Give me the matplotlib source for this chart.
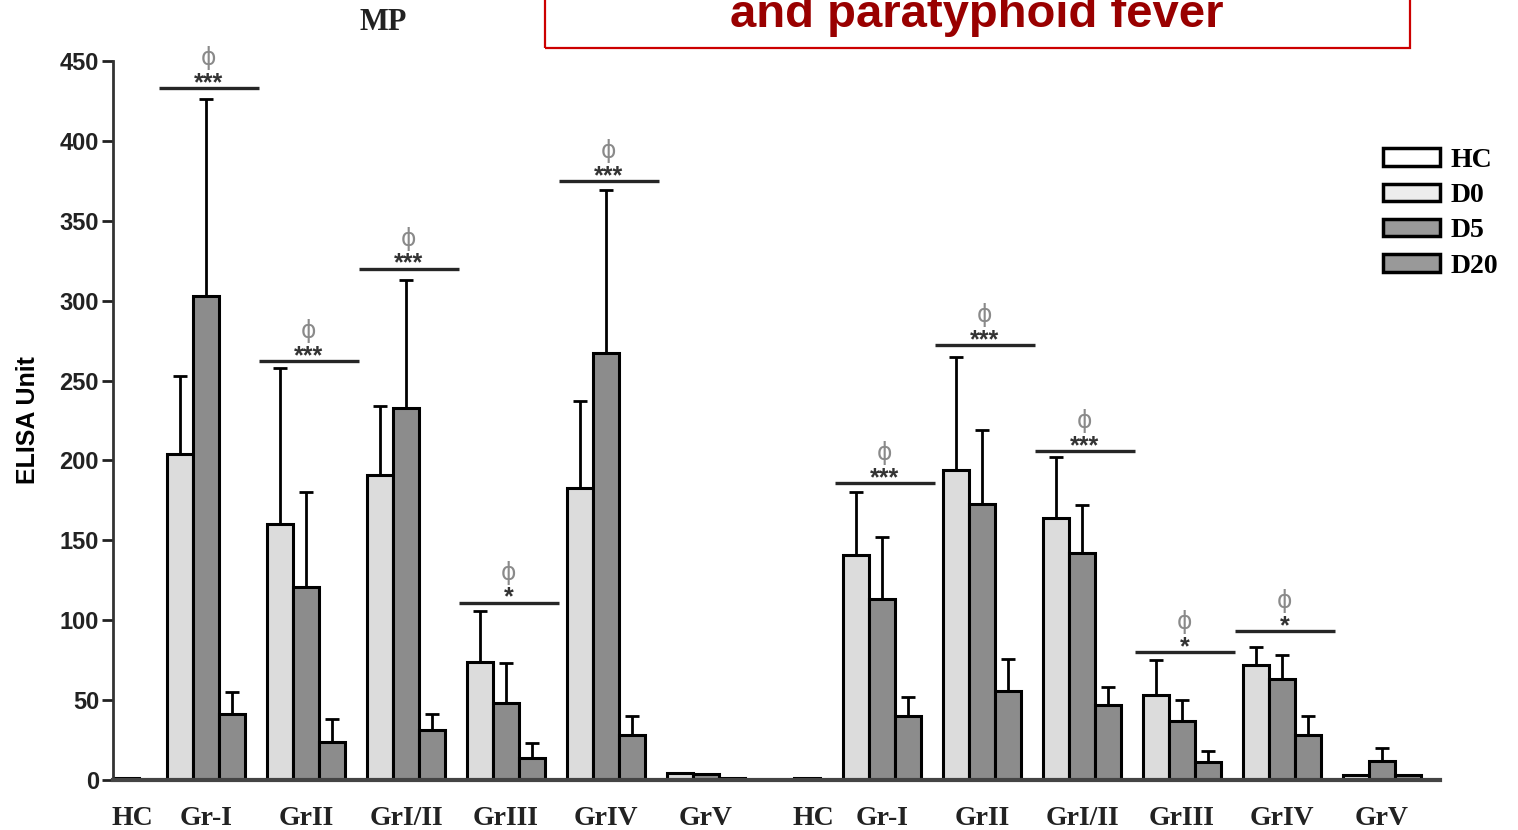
import numpy as np
import matplotlib
matplotlib.use('Agg')
import matplotlib.pyplot as plt
from matplotlib.patches import Rectangle

# Values (ELISA units), upper error = SD
groups = ['Gr-I', 'GrII', 'GrI/II', 'GrIII', 'GrIV', 'GrV']
hc_vals = [1.5, 1.5]

d0_1 = [204, 160, 191, 74, 183, 4.5]
d0_1_sd = [49, 98, 43, 32, 54, 0]
d5_1 = [303, 121, 233, 48, 267, 3.5]
d5_1_sd = [123, 59, 80, 25, 102, 0]
d20_1 = [41, 24, 31, 14, 28, 1.5]
d20_1_sd = [14, 14, 10, 9, 12, 0]

d0_2 = [141, 194, 164, 53, 72, 3]
d0_2_sd = [39, 71, 38, 22, 11, 0]
d5_2 = [113, 173, 142, 37, 63, 12]
d5_2_sd = [39, 46, 30, 13, 15, 8]
d20_2 = [40, 56, 47, 11, 28, 3]
d20_2_sd = [12, 20, 11, 7, 12, 0]

sig1_y = [433, 262, 320, 111, 375]
sig1_mark = ['***', '***', '***', '*', '***']
sig2_y = [186, 272, 206, 80, 93]
sig2_mark = ['***', '***', '***', '*', '*']

legend_labels = ['HC', 'D0', 'D5', 'D20']

serif = 'Liberation Serif'
sans = 'Liberation Sans'
c_d0 = '#dcdcdc'
c_d5 = '#8c8c8c'
c_d20 = '#8c8c8c'

fig = plt.figure(figsize=(15.18, 8.3), dpi=100)
ax = fig.add_axes([113 / 1518, 50 / 830, 1327 / 1518, 719 / 830])

bw = 0.26
half_start = [0.0, 6.81]
hc_gap = [0.8, 0.75]
halves = [
    (d0_1, d0_1_sd, d5_1, d5_1_sd, d20_1, d20_1_sd, sig1_y, sig1_mark),
    (d0_2, d0_2_sd, d5_2, d5_2_sd, d20_2, d20_2_sd, sig2_y, sig2_mark),
]

tick_pos, tick_lab = [], []
for h, (d0, s0, d5, s5, d20, s20, sy, sm) in enumerate(halves):
    hx = half_start[h]
    ax.bar(hx, hc_vals[h], bw, color='white', edgecolor='black', linewidth=2.2, zorder=2)
    tick_pos.append(hx + 0.06)
    tick_lab.append('HC')
    centers = hx + hc_gap[h] + np.arange(len(groups))
    for vals, sds, off, col in [(d0, s0, -bw, c_d0), (d5, s5, 0, c_d5), (d20, s20, bw, c_d20)]:
        xs = centers + off
        ax.bar(xs, vals, bw, color=col, edgecolor='black', linewidth=2.2, zorder=2)
        sds = np.array(sds, dtype=float)
        m = sds > 0
        ax.errorbar(xs[m], np.array(vals)[m], yerr=[np.zeros(m.sum()), sds[m]], fmt='none',
                    ecolor='black', elinewidth=2, capsize=5, capthick=2, zorder=3)
    for i, g in enumerate(groups):
        tick_pos.append(centers[i])
        tick_lab.append(g)
    for i, (y, mk) in enumerate(zip(sy, sm)):
        cx = centers[i] + 0.03
        ax.plot([cx - 0.5, cx + 0.5], [y, y], color='#262626', lw=2.4, zorder=3, solid_capstyle='butt')
        ax.annotate(mk, (cx, y), xytext=(0, -1.5), textcoords='offset points', ha='center', va='baseline',
                    fontsize=18, fontweight='bold', family=sans, color='#333333')
        ax.annotate('\u03d5', (cx, y), xytext=(0, 13), textcoords='offset points', ha='center', va='bottom',
                    fontsize=17, family='DejaVu Sans', color='#8a8a8a')

ax.set_xlim(-0.13, 13.14)
ax.set_ylim(0, 450)
ax.set_yticks(np.arange(0, 451, 50))
ax.set_xticks(tick_pos)
ax.set_xticklabels(tick_lab, family=serif, fontweight='bold', fontsize=20, color='#222222')
ax.tick_params(axis='x', length=0, pad=19)
ax.tick_params(axis='y', length=8, width=2, pad=2, labelsize=17, colors='#222222')
for lab in ax.get_yticklabels():
    lab.set_family(sans)
    lab.set_fontweight('bold')
for s in ['top', 'right']:
    ax.spines[s].set_visible(False)
ax.spines['left'].set_linewidth(2)
ax.spines['bottom'].set_linewidth(3)
ax.spines['bottom'].set_color('#444444')
ax.spines['left'].set_color('#333333')
ax.set_ylabel('ELISA Unit', family=sans, fontweight='bold', fontsize=18, labelpad=14)

# legend
handles = [Rectangle((0, 0), 1, 1, facecolor=c, edgecolor='black', linewidth=2.5)
           for c in ['white', '#ededed', '#999999', '#999999']]
ax.legend(handles, legend_labels, loc='upper left', bbox_to_anchor=(1369 / 1518, 1 - 134 / 830),
          bbox_transform=fig.transFigure, frameon=False,
          prop={'family': serif, 'weight': 'bold', 'size': 20},
          handlelength=2.05, handleheight=0.6, handletextpad=0.4, labelspacing=0.37, borderpad=0)

# top annotations
fig.text(383 / 1518, 1 - 22 / 830, 'MP', family=serif, fontweight='bold', fontsize=22,
         ha='center', va='center', color='#222222')
fig.patches.append(Rectangle((545 / 1518, 1 - 48 / 830), 865 / 1518, 0.1, transform=fig.transFigure,
                             fill=False, edgecolor='#cc0000', linewidth=1.6))
fig.text(977 / 1518, 1 - 27 / 830, 'and paratyphoid fever', family=sans, fontweight='bold',
         fontsize=34, ha='center', va='baseline', color='#990000')

fig.savefig('out.png', dpi=100)
